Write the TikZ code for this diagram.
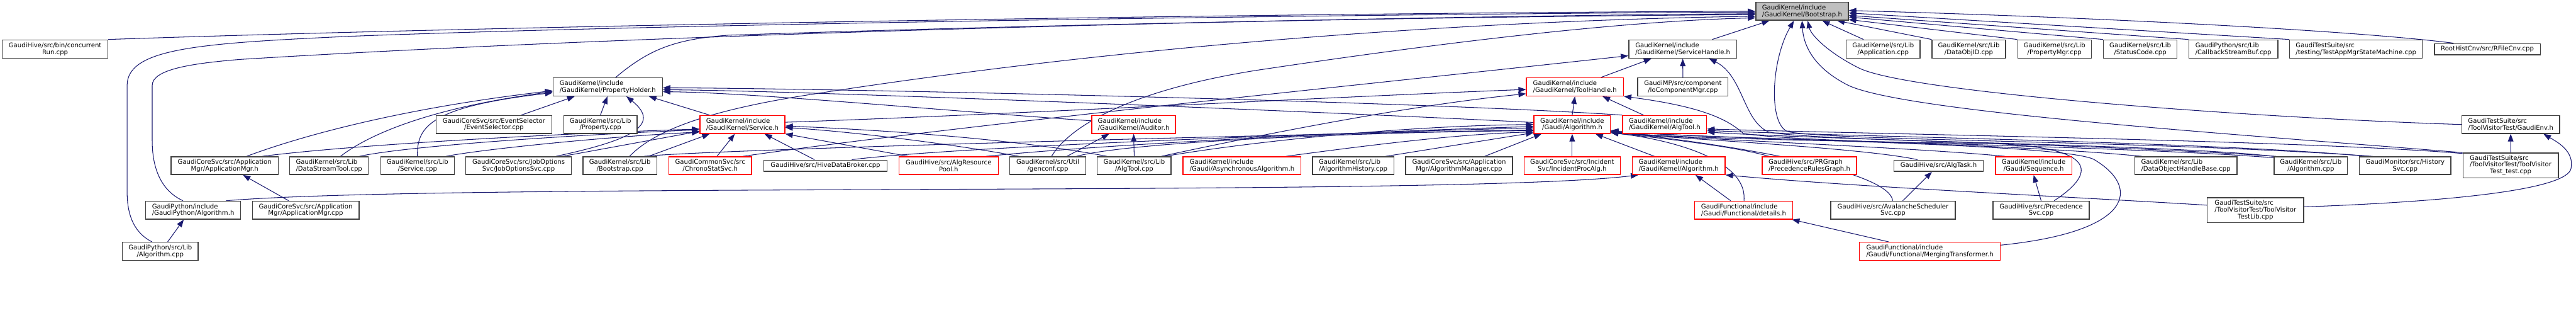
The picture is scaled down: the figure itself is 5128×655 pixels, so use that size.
\documentclass[tikz,border=0pt]{standalone}
\usepackage{fontspec}
\usepackage{xcolor}
\usetikzlibrary{arrows.meta, backgrounds}
\newfontfamily\dotfont{DejaVu Sans}
\definecolor{inclblue}{RGB}{25,25,112}
\definecolor{nodered}{RGB}{255,0,0}
\definecolor{rootgray}{RGB}{191,191,191}

\begin{document}
\begin{tikzpicture}[x=0.02cm, y=-0.02cm,
    dotfile/.style={draw=black!75, fill=white, line width=1pt, inner sep=0pt,
        align=center, font=\dotfont\fontsize{7.2}{7.8}\selectfont},
    dotfilel/.style={dotfile, align=left},
    missing/.style={draw=nodered},
    sz/.style 2 args={minimum width=#1*0.02cm, minimum height=#2*0.02cm},
    incl/.style={draw=inclblue, line width=0.75pt, -{Triangle[length=0.3cm, width=0.22cm]}}]
    \useasboundingbox (0,0) rectangle (5128,655);

    % Root
    \node[dotfilel, sz={184}{35.6}, fill=rootgray] (boot) at (3587.3,22.5) {GaudiKernel/include\\/GaudiKernel/Bootstrap.h};

    % Row 1
    \node[dotfile, sz={210}{36.4}] (crun) at (109.7,97.5) {GaudiHive/src/bin/concurrent\\Run.cpp};
    \node[dotfilel, sz={215}{36.4}] (srvh) at (3349.8,97.5) {GaudiKernel/include\\/GaudiKernel/ServiceHandle.h};
    \node[dotfile, sz={146.7}{36.4}] (app) at (3748.7,97.5) {GaudiKernel/src/Lib\\/Application.cpp};
    \node[dotfile, sz={146.3}{36.4}] (dobjid) at (3919.2,97.5) {GaudiKernel/src/Lib\\/DataObjID.cpp};
    \node[dotfile, sz={146.3}{36.4}] (pmgr) at (4089.8,97.5) {GaudiKernel/src/Lib\\/PropertyMgr.cpp};
    \node[dotfile, sz={146.4}{36.4}] (stcode) at (4260.5,97.5) {GaudiKernel/src/Lib\\/StatusCode.cpp};
    \node[dotfilel, sz={177}{36.4}] (cbsb) at (4445.8,97.5) {GaudiPython/src/Lib\\/CallbackStreamBuf.cpp};
    \node[dotfilel, sz={264}{36.4}] (tasm) at (4690,97.5) {GaudiTestSuite/src\\/testing/TestAppMgrStateMachine.cpp};
    \node[dotfile, sz={211}{22}] (rfile) at (4951.5,97.7) {RootHistCnv/src/RFileCnv.cpp};

    % Row 2
    \node[dotfilel, sz={217.7}{36}] (ph) at (1209.8,172.7) {GaudiKernel/include\\/GaudiKernel/PropertyHolder.h};
    \node[dotfilel, missing, sz={193}{36}] (th) at (3135.2,172.7) {GaudiKernel/include\\/GaudiKernel/ToolHandle.h};
    \node[dotfile, sz={180}{36}] (iocm) at (3350,172.7) {GaudiMP/src/component\\/IoComponentMgr.cpp};

    % Row 3
    \node[dotfile, sz={230}{35.6}] (evsel) at (983.3,247.5) {GaudiCoreSvc/src/EventSelector\\/EventSelector.cpp};
    \node[dotfile, sz={146.3}{35.6}] (propcpp) at (1195.2,247.5) {GaudiKernel/src/Lib\\/Property.cpp};
    \node[dotfilel, missing, sz={169}{35.6}] (svch) at (1477.8,247.5) {GaudiKernel/include\\/GaudiKernel/Service.h};
    \node[dotfilel, missing, sz={166.7}{35.6}] (aud) at (2256.7,247.5) {GaudiKernel/include\\/GaudiKernel/Auditor.h};
    \node[dotfile, missing, sz={152}{35.6}] (galg) at (3129.7,247.5) {GaudiKernel/include\\/Gaudi/Algorithm.h};
    \node[dotfilel, missing, sz={167.3}{35.6}] (algtoolh) at (3313.7,247.5) {GaudiKernel/include\\/GaudiKernel/AlgTool.h};
    \node[dotfilel, sz={194.6}{35.6}] (genv) at (4998,247.5) {GaudiTestSuite/src\\/ToolVisitorTest/GaudiEnv.h};

    % Row 4
    \node[dotfile, sz={213}{35.3}] (amgrh) at (447.2,329.3) {GaudiCoreSvc/src/Application\\Mgr/ApplicationMgr.h};
    \node[dotfilel, sz={156.6}{35.3}] (dstool) at (655,329.3) {GaudiKernel/src/Lib\\/DataStreamTool.cpp};
    \node[dotfile, sz={146.6}{35.3}] (svccpp) at (831,329.3) {GaudiKernel/src/Lib\\/Service.cpp};
    \node[dotfile, sz={210}{35.3}] (jos) at (1032.3,329.3) {GaudiCoreSvc/src/JobOptions\\Svc/JobOptionsSvc.cpp};
    \node[dotfile, sz={146.6}{35.3}] (bootcpp) at (1234,329.3) {GaudiKernel/src/Lib\\/Bootstrap.cpp};
    \node[dotfile, missing, sz={164.3}{35.3}] (chrono) at (1413.8,329.3) {GaudiCommonSvc/src\\/ChronoStatSvc.h};
    \node[dotfile, sz={245.7}{22.4}] (hdb) at (1643.2,329.5) {GaudiHive/src/HiveDataBroker.cpp};
    \node[dotfile, missing, sz={198}{35.3}] (arp) at (1888.3,329.3) {GaudiHive/src/AlgResource\\Pool.h};
    \node[dotfile, sz={151}{35.3}] (genconf) at (2085.8,329.3) {GaudiKernel/src/Util\\/genconf.cpp};
    \node[dotfile, sz={147}{35.3}] (algtoolcpp) at (2257.8,329.3) {GaudiKernel/src/Lib\\/AlgTool.cpp};
    \node[dotfilel, missing, sz={235}{35.3}] (asyn) at (2472.5,329.3) {GaudiKernel/include\\/Gaudi/AsynchronousAlgorithm.h};
    \node[dotfilel, sz={162}{35.3}] (ahist) at (2693.7,329.3) {GaudiKernel/src/Lib\\/AlgorithmHistory.cpp};
    \node[dotfile, sz={212.4}{35.3}] (algmgr) at (2904.5,329.3) {GaudiCoreSvc/src/Application\\Mgr/AlgorithmManager.cpp};
    \node[dotfile, missing, sz={192}{35.3}] (ipa) at (3129.7,329.3) {GaudiCoreSvc/src/Incident\\Svc/IncidentProcAlg.h};
    \node[dotfilel, missing, sz={184.7}{35.3}] (gkalg) at (3341.7,329.3) {GaudiKernel/include\\/GaudiKernel/Algorithm.h};
    \node[dotfilel, missing, sz={187.7}{35.3}] (prg) at (3601.8,329.3) {GaudiHive/src/PRGraph\\/PrecedenceRulesGraph.h};
    \node[dotfile, sz={178.3}{22.4}] (algtask) at (3859.2,329.5) {GaudiHive/src/AlgTask.h};
    \node[dotfile, missing, sz={152}{35.3}] (seq) at (4048.3,329.3) {GaudiKernel/include\\/Gaudi/Sequence.h};
    \node[dotfilel, sz={203.3}{35.3}] (dohb) at (4351.3,329.3) {GaudiKernel/src/Lib\\/DataObjectHandleBase.cpp};
    \node[dotfile, sz={146}{35.3}] (algcpp) at (4600,329.3) {GaudiKernel/src/Lib\\/Algorithm.cpp};
    \node[dotfile, sz={181.7}{35.3}] (hist) at (4787.8,329.3) {GaudiMonitor/src/History\\Svc.cpp};
    \node[dotfile, sz={189.7}{49.4}] (tvtest) at (4997.8,329) {\begin{tabular}{@{}l@{}}GaudiTestSuite/src\\/ToolVisitorTest/ToolVisitor\\\multicolumn{1}{@{}c@{}}{Test\_test.cpp}\end{tabular}};

    % Row 5
    \node[dotfilel, sz={189}{35.7}] (gpyalgh) at (384.5,417.8) {GaudiPython/include\\/GaudiPython/Algorithm.h};
    \node[dotfile, sz={212.4}{35.7}] (amgrcpp) at (608.5,417.8) {GaudiCoreSvc/src/Application\\Mgr/ApplicationMgr.cpp};
    \node[dotfilel, missing, sz={194.6}{35.7}] (det) at (3471,417.8) {GaudiFunctional/include\\/Gaudi/Functional/details.h};
    \node[dotfile, sz={248}{35.7}] (aval) at (3768.3,417.8) {GaudiHive/src/AvalancheScheduler\\Svc.cpp};
    \node[dotfile, sz={191.7}{35.7}] (precsvc) at (4063.2,417.8) {GaudiHive/src/Precedence\\Svc.cpp};
    \node[dotfile, sz={191.7}{49.4}] (tvlib) at (4489.8,418) {\begin{tabular}{@{}l@{}}GaudiTestSuite/src\\/ToolVisitorTest/ToolVisitor\\\multicolumn{1}{@{}c@{}}{TestLib.cpp}\end{tabular}};

    % Row 6
    \node[dotfile, sz={150.6}{36}] (gpyalgcpp) at (319,499.7) {GaudiPython/src/Lib\\/Algorithm.cpp};
    \node[dotfilel, missing, sz={280.7}{36}] (merge) at (3841.7,499.7) {GaudiFunctional/include\\/Gaudi/Functional/MergingTransformer.h};

    \begin{scope}[on background layer]
    \fill[white] (0,0) rectangle (5128,655);

    % Includes of Bootstrap.h
    \draw[incl] (crun.north east) .. controls (1200,45) and (2800,24) .. (boot.180);
    \draw[incl] (gpyalgcpp.131) .. controls (262,460) and (253,420) .. (253,380) -- (253,170)
        .. controls (253,95) and (400,86) .. (700,72) .. controls (1500,42) and (3000,26) .. (boot.181);
    \draw[incl] (gpyalgh.137) .. controls (318,378) and (303,330) .. (303,280) -- (303,170)
        .. controls (303,138) and (380,126) .. (480,118) .. controls (1500,55) and (3000,30) .. (boot.183);
    \draw[incl] (ph.50) .. controls (1290,100) and (1340,78) .. (1450,70) .. controls (2200,45) and (3000,32) .. (boot.184);
    \draw[incl] (bootcpp.44) .. controls (1300,262) and (1400,222) .. (1600,190) .. controls (2300,80) and (3000,40) .. (boot.186);
    \draw[incl] (genconf.68) .. controls (2130,250) and (2250,180) .. (2500,140) .. controls (3000,65) and (3300,40) .. (boot.188);
    \draw[incl] (srvh.18) -- (boot.196);
    \draw[incl] (hist.164) .. controls (4300,280) and (3650,280) .. (3560,262) .. controls (3520,250) and (3525,120) .. (boot.229);
    \draw[incl] (tvtest.north west) .. controls (4500,270) and (3800,225) .. (3680,170) .. controls (3610,135) and (3590,90) .. (boot.south);
    \draw[incl] (genv.west) .. controls (4500,235) and (3800,185) .. (3700,135) .. controls (3640,105) and (3605,70) .. (boot.301);
    \draw[incl] (app.154) -- (boot.335);
    \draw[incl] (dobjid.north west) -- (boot.345);
    \draw[incl] (pmgr.north west) -- (boot.350);
    \draw[incl] (stcode.north west) -- (boot.353);
    \draw[incl] (cbsb.north west) -- (boot.355);
    \draw[incl] (tasm.north west) -- (boot.358);
    \draw[incl] (rfile.170) .. controls (4700,62) and (4200,35) .. (boot.1);

    % PropertyHolder.h
    \draw[incl] (amgrh.23) .. controls (600,270) and (800,215) .. (ph.184);
    \draw[incl] (dstool.39) .. controls (730,270) and (850,215) .. (ph.185);
    \draw[incl] (svccpp.north) .. controls (829,250) and (860,212) .. (ph.186);
    \draw[incl] (evsel.19) -- (ph.196);
    \draw[incl] (propcpp.north) -- (ph.268);
    \draw[incl] (jos.14) .. controls (1250,280) and (1320,250) .. (ph.333);
    \draw[incl] (svch.164) -- (ph.347);
    \draw[incl] (aud.175) .. controls (1900,222) and (1500,184) .. (ph.355);
    \draw[incl] (galg.177) .. controls (2700,225) and (1600,180) .. (ph.357);
    \draw[incl] (algtoolh.north west) .. controls (2800,200) and (1600,175) .. (ph.359);

    % ServiceHandle.h and ToolHandle.h
    \draw[incl] (th.20) -- (srvh.197);
    \draw[incl] (iocm.north) -- (srvh.south);
    \draw[incl] (chrono.16) .. controls (1900,250) and (2700,170) .. (srvh.187);
    \draw[incl] (algcpp.north west) .. controls (4300,285) and (3600,282) .. (3520,262) .. controls (3470,240) and (3470,150) .. (srvh.340);
    \draw[incl] (galg.north) -- (th.south);
    \draw[incl] (algtoolh.156) -- (th.341);
    \draw[incl] (svch.3) .. controls (2000,228) and (2600,195) .. (th.183);
    \draw[incl] (algtoolcpp.19) .. controls (2500,270) and (2800,210) .. (th.188);
    \draw[incl] (dohb.168) .. controls (4000,285) and (3560,282) .. (3470,265) .. controls (3440,238) and (3390,212) .. (th.south east);

    % Service.h and Auditor.h
    \draw[incl] (amgrh.14) .. controls (700,288) and (1100,266) .. (svch.186);
    \draw[incl] (dstool.17) .. controls (800,292) and (1100,270) .. (svch.187);
    \draw[incl] (svccpp.18) .. controls (950,298) and (1200,272) .. (svch.190);
    \draw[incl] (jos.12) -- (svch.189);
    \draw[incl] (bootcpp.18) -- (svch.196);
    \draw[incl] (chrono.54) -- (svch.231);
    \draw[incl] (hdb.151) -- (svch.337);
    \draw[incl] (arp.167) -- (svch.south east);
    \draw[incl] (genconf.162) .. controls (1900,287) and (1700,262) .. (svch.356);
    \draw[incl] (algtoolcpp.161) .. controls (2000,272) and (1700,256) .. (svch.358);
    \draw[incl] (genconf.26) -- (aud.201);
    \draw[incl] (algtoolcpp.north) -- (aud.south);

    % Gaudi/Algorithm.h
    \draw[incl] (algtoolcpp.17) .. controls (2500,280) and (2800,250) .. (galg.180);
    \draw[incl] (arp.14) .. controls (2200,287) and (2700,262) .. (galg.183);
    \draw[incl] (hdb.13) .. controls (1900,292) and (2600,266) .. (galg.185);
    \draw[incl] (bootcpp.21) .. controls (1400,298) and (2500,268) .. (galg.188);
    \draw[incl] (genconf.18) .. controls (2250,282) and (2700,263) .. (galg.189);
    \draw[incl] (asyn.12) .. controls (2700,292) and (2900,266) .. (galg.191);
    \draw[incl] (ahist.16) -- (galg.192);
    \draw[incl] (algmgr.20) -- (galg.197);
    \draw[incl] (ipa.north) -- (galg.south);
    \draw[incl] (gkalg.159) -- (galg.338);
    \draw[incl] (det.88) .. controls (3480,310) and (3300,274) .. (galg.348);
    \draw[incl] (prg.167) .. controls (3450,290) and (3300,274) .. (galg.348);
    \draw[incl] (aval.92) .. controls (3760,330) and (3350,276) .. (galg.349);
    \draw[incl] (algtask.164) .. controls (3700,292) and (3300,274) .. (galg.349);
    \draw[incl] (seq.162) .. controls (3800,292) and (3300,274) .. (galg.350);
    \draw[incl] (precsvc.36) .. controls (4180,340) and (4170,290) .. (3950,285) .. controls (3700,282) and (3300,274) .. (galg.350);
    \draw[incl] (merge.5) .. controls (4250,460) and (4260,372) .. (4170,318) .. controls (4120,284) and (3400,278) .. (galg.351);
    \draw[incl] (algcpp.168) .. controls (4200,288) and (3400,278) .. (galg.351);

    % AlgTool.h
    \draw[incl] (algcpp.165) .. controls (4200,288) and (3600,276) .. (algtoolh.350);
    \draw[incl] (hist.166) .. controls (4400,282) and (3700,272) .. (algtoolh.352);
    \draw[incl] (tvtest.166) .. controls (4600,280) and (3800,268) .. (algtoolh.354);

    % GaudiKernel/Algorithm.h and the rest
    \draw[incl] (gpyalgh.16) .. controls (900,362) and (2900,392) .. (gkalg.193);
    \draw[incl] (det.144) -- (gkalg.331);
    \draw[incl] (tvlib.174) .. controls (4100,390) and (3700,372) .. (gkalg.south east);
    \draw[incl] (merge.167) -- (det.349);
    \draw[incl] (aval.44) -- (algtask.222);
    \draw[incl] (precsvc.north) -- (seq.south);
    \draw[incl] (tvtest.north) -- (genv.south);
    \draw[incl] (tvlib.4) .. controls (4900,400) and (5110,375) .. (5118,335) .. controls (5125,300) and (5090,282) .. (genv.344);
    \draw[incl] (gpyalgcpp.52) -- (gpyalgh.225);
    \draw[incl] (amgrcpp.151) -- (amgrh.333);
    \end{scope}
\end{tikzpicture}
\end{document}
